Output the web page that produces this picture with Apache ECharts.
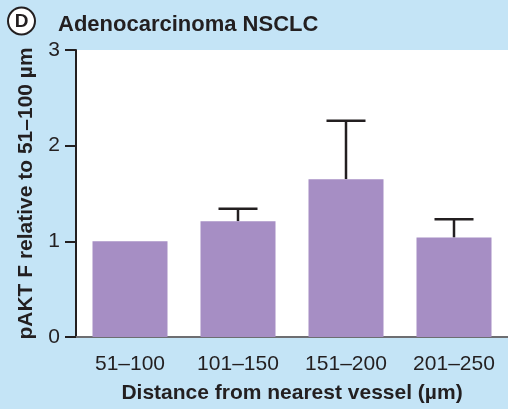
<!DOCTYPE html>
<html><head><meta charset="utf-8">
<script src="https://cdn.jsdelivr.net/npm/echarts@6/dist/echarts.min.js"></script>
<style>html,body{margin:0;padding:0;background:#c4e4f6;}#c{width:508px;height:409px;}</style>
</head><body><div id="c"></div>
<script>
var categories = ['51\u2013100', '101\u2013150', '151\u2013200', '201\u2013250'];
var means = [1.0, 1.21, 1.65, 1.04];
var errTops = [1.0, 1.34, 2.26, 1.23];
var yTicks = [0, 1, 2, 3];

var FONT = '"Liberation Sans", Arial, Helvetica, sans-serif';
var INK = '#231f20';
var chart = echarts.init(document.getElementById('c'));
chart.setOption({
  backgroundColor: '#c4e4f6',
  animation: false,
  graphic: [
    {type: 'circle', shape: {cx: 21.5, cy: 21, r: 13.5}, style: {fill: '#fff', stroke: INK, lineWidth: 2}},
    {type: 'text', x: 21.5, y: 21.5, style: {text: 'D', fill: INK, font: 'bold 19px ' + FONT, align: 'center', verticalAlign: 'middle'}},
    {type: 'text', x: 58, y: 25, style: {text: 'Adenocarcinoma NSCLC', fill: INK, font: 'bold 22px ' + FONT, align: 'left', verticalAlign: 'middle'}}
  ],
  grid: {left: 76, top: 50, width: 436, height: 290, show: true, backgroundColor: '#ffffff', borderWidth: 0},
  xAxis: {
    type: 'category', data: categories,
    axisLine: {lineStyle: {color: '#6d6e71', width: 2}},
    axisTick: {alignWithLabel: true, length: 12, lineStyle: {color: INK, width: 2}},
    axisLabel: {fontSize: 21, color: INK, fontFamily: FONT, margin: 17},
    name: 'Distance from nearest vessel (\u00b5m)', nameLocation: 'middle', nameGap: 46,
    nameTextStyle: {fontSize: 21, fontWeight: 'bold', color: INK, fontFamily: FONT}
  },
  yAxis: {
    type: 'value', min: 0, max: 3, interval: 1,
    axisLine: {show: true, lineStyle: {color: INK, width: 2}},
    axisTick: {show: true, length: 11, lineStyle: {color: INK, width: 2}},
    axisLabel: {fontSize: 21, color: INK, fontFamily: FONT, margin: 16,
      formatter: function (v) { return yTicks.indexOf(v) >= 0 ? String(v) : ''; }},
    splitLine: {show: false},
    name: 'pAKT F relative to 51\u2013100 \u00b5m', nameLocation: 'middle', nameGap: 39,
    nameTextStyle: {fontSize: 21, fontWeight: 'bold', color: INK, fontFamily: FONT}
  },
  series: [
    {type: 'bar', data: means, barWidth: 75, itemStyle: {color: '#a68ec4'}, z: 2},
    {type: 'custom', z: 1,
      data: categories.map(function (c, i) { return [i, means[i], errTops[i]]; }),
      renderItem: function (params, api) {
        var b = api.coord([api.value(0), api.value(1)]);
        var t = api.coord([api.value(0), api.value(2)]);
        if (Math.abs(b[1] - t[1]) < 1) return null;
        var hw = 19.5;
        return {type: 'group', children: [
          {type: 'line', shape: {x1: t[0], y1: b[1], x2: t[0], y2: t[1]}, style: {stroke: INK, lineWidth: 2.5}},
          {type: 'line', shape: {x1: t[0] - hw, y1: t[1], x2: t[0] + hw, y2: t[1]}, style: {stroke: INK, lineWidth: 2.5}}
        ]};
      }
    }
  ]
});
</script></body></html>
